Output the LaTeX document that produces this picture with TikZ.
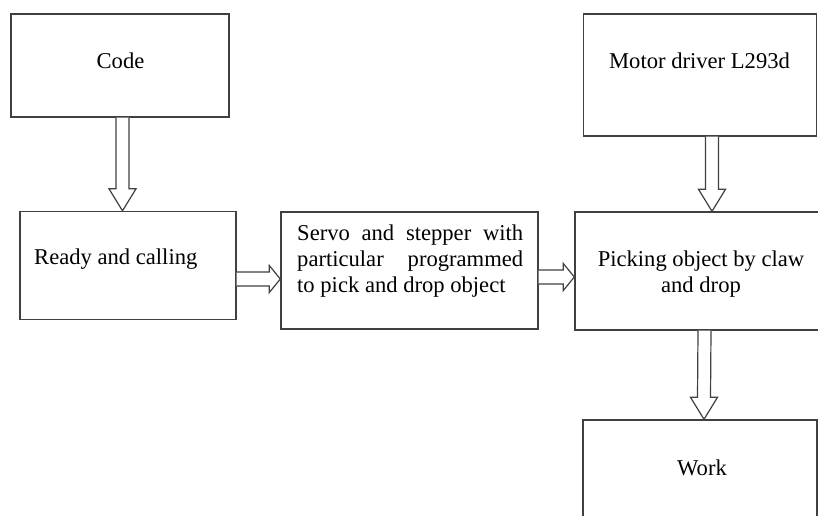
\documentclass[tikz,border=0pt]{standalone}
\usepackage{fontspec}
\setmainfont{Liberation Serif}
\usetikzlibrary{calc}
\tikzset{
  box/.style={draw=black!75, line width=1.4pt, rectangle, inner sep=0pt},
  arr/.style={draw=black!75, line width=1.2pt, fill=white, line join=miter},
  lbl/.style={inner sep=0pt, anchor=base, font=\fontsize{22.6}{26}\selectfont}
}
\newcommand{\blkdown}[2]{%
  \draw[arr] ($(#1)+(-6.5,0)$) -- ($(#2)+(-6.5,-22)$) -- ($(#2)+(-13.5,-22)$) -- (#2)
    -- ($(#2)+(13.5,-22)$) -- ($(#2)+(6.5,-22)$) -- ($(#1)+(6.5,0)$);}
\newcommand{\blkright}[2]{%
  \draw[arr] ($(#1)+(0,-7)$) -- ($(#2)+(-11,-7)$) -- ($(#2)+(-11,-13.5)$) -- (#2)
    -- ($(#2)+(-11,13.5)$) -- ($(#2)+(-11,7)$) -- ($(#1)+(0,7)$);}
\begin{document}
\begin{tikzpicture}[x=1pt,y=-1pt]
\useasboundingbox (0,0) rectangle (818,515);
% boxes
\node[box, minimum width=218pt, minimum height=103pt] (code) at (120,65.5) {};
\node[box, minimum width=216pt, minimum height=108pt] (ready) at (128,265.5) {};
\node[box, minimum width=257pt, minimum height=117pt] (servo) at (409.5,270.5) {};
\node[box, minimum width=255pt, minimum height=118pt] (pick) at (702.5,271) {};
\node[box, minimum width=233pt, minimum height=122pt] (motor) at (700,75) {};
\node[box, minimum width=234pt, minimum height=130pt] (work) at (700,485) {};
% texts
\node[lbl] (codetxt) at (120.5,68) {Code};
\node[lbl, anchor=base west] (readytxt) at (34,264) {Ready and calling};
\node[lbl, anchor=base west] (servotxt) at (297,240) {\parbox[t]{226pt}{\fontsize{22.6}{26}\selectfont
  \makebox[226pt][s]{Servo and stepper with}\\
  \makebox[226pt][s]{particular programmed}\\
  to pick and drop object}};
\node[lbl] (motortxt) at (699.5,68) {Motor driver L293d};
\node[lbl] (picktxt) at (701,266) {\parbox[t]{240pt}{\centering\fontsize{22.6}{26}\selectfont
  Picking object by claw\\ and drop}};
\node[lbl] (worktxt) at (702,475) {Work};
% arrows
\coordinate (a1s) at ($(code.south)+(2.5,0)$);
\coordinate (a1e) at ($(ready.north)+(-5.5,0)$);
\blkdown{a1s}{a1e}
\coordinate (a2s) at ($(motor.south)+(12,0)$);
\coordinate (a2e) at ($(pick.north)+(9.5,0)$);
\blkdown{a2s}{a2e}
\coordinate (a3s) at ($(pick.south)+(2,0)$);
\coordinate (a3e) at ($(work.north)+(4,0)$);
\blkdown{a3s}{a3e}
\coordinate (a4s) at ($(ready.east)+(0,13.5)$);
\coordinate (a4e) at ($(servo.west)+(0,8.5)$);
\blkright{a4s}{a4e}
\coordinate (a5s) at ($(servo.east)+(0,6.5)$);
\coordinate (a5e) at ($(pick.west)+(0,6)$);
\blkright{a5s}{a5e}
\end{tikzpicture}
\end{document}
